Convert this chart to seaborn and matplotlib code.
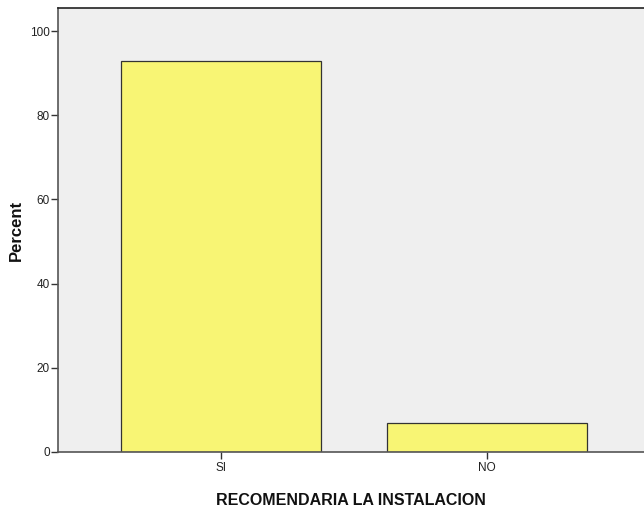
import matplotlib
matplotlib.use("Agg")
import matplotlib.pyplot as plt
import seaborn as sns
import pandas as pd

# data
categories = ["SI", "NO"]
percent = [93.0, 7.0]
x_title = "RECOMENDARIA LA INSTALACION"
y_title = "Percent"
y_ticks = [0, 20, 40, 60, 80, 100]

df = pd.DataFrame({"cat": categories, "pct": percent})

sns.set_style("white")
plt.rcParams['font.family'] = ['Liberation Sans', 'DejaVu Sans']

fig = plt.figure(figsize=(6.44, 5.12), dpi=100)
ax = fig.add_axes([58 / 644, 60 / 512, 1 - 58 / 644, (452 - 8) / 512])
ax.set_facecolor("#EFEFEF")

sns.barplot(data=df, x="cat", y="pct", ax=ax, color="#F8F574",
            saturation=1, width=0.752, edgecolor="#333333", linewidth=0.9)

ax.set_xlim(-0.613, 1.59)
ax.set_ylim(0, 105.5)
ax.set_yticks(y_ticks)
ax.set_yticklabels([str(t) for t in y_ticks])

for s in ["left", "bottom"]:
    ax.spines[s].set_color("#555555")
    ax.spines[s].set_linewidth(1.2)
ax.spines["top"].set_color("#222222")
ax.spines["top"].set_linewidth(1.2)
ax.spines["right"].set_visible(False)

# seaborn "white" style hides ticks, turn them back on
ax.tick_params(axis="both", bottom=True, left=True, direction="out", length=5,
               width=1, color="#333333", labelsize=8.5, labelcolor="#222222")
ax.tick_params(axis="x", pad=2)
ax.tick_params(axis="y", pad=1)

ax.set_xlabel(x_title, fontsize=11.5, fontweight="bold", color="#111111",
              labelpad=14)
ax.set_ylabel(y_title, fontsize=12, fontweight="bold", color="#111111")
ax.yaxis.set_label_coords(-0.058, 0.5)

fig.savefig("out.png", dpi=100)
